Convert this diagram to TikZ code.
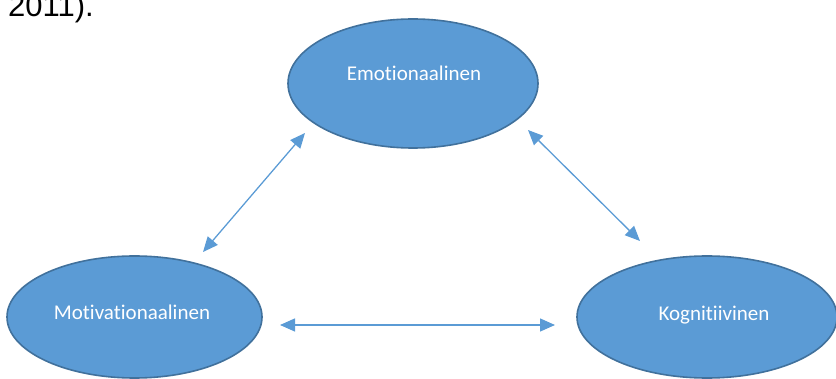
\documentclass[tikz,border=0pt]{standalone}
\usepackage{fontspec}
\setmainfont{Liberation Sans}
\newfontfamily\calfont[Ligatures=NoCommon]{Carlito}
\usetikzlibrary{shapes.geometric,arrows.meta}
\definecolor{bluefill}{HTML}{5B9BD5}
\definecolor{blueline}{HTML}{41719C}
\tikzset{
  bubble/.style={ellipse, draw=blueline, fill=bluefill, line width=1.6pt, inner sep=0pt},
  bubtext/.style={text=white, font=\calfont\fontsize{21}{25}\selectfont, inner sep=0pt, anchor=base},
  link/.style={draw=bluefill, line width=1.3pt, {Triangle[length=15pt,width=13pt]}-{Triangle[length=15pt,width=13pt]}}
}
\begin{document}
\begin{tikzpicture}[x=1pt,y=-1pt]
\useasboundingbox (0,0) rectangle (836,379);
\clip (0,0) rectangle (836,379);
\node[font=\fontsize{31}{36}\selectfont, inner sep=0pt, anchor=base west] (cite) at (8,17) {2011).};
\node[bubble, minimum width=250pt, minimum height=129pt] (emo) at (413,83.5) {};
\node[bubble, minimum width=255pt, minimum height=122pt] (mot) at (134.5,317) {};
\node[bubble, minimum width=260pt, minimum height=122pt] (kog) at (707,317) {};
\node[bubtext] (emot) at (414,81) {Emotionaalinen};
\node[bubtext] (mott) at (132,320) {Motivationaalinen};
\node[bubtext] (kogt) at (714,321) {Kognitiivinen};
\coordinate (a1) at (305,133);
\coordinate (a2) at (203,252);
\coordinate (b1) at (528,130);
\coordinate (b2) at (640,241);
\coordinate (c1) at (280,325);
\coordinate (c2) at (555,325);
\draw[link] (a2) -- (a1);
\draw[link] (b1) -- (b2);
\draw[link] (c1) -- (c2);
\end{tikzpicture}
\end{document}
